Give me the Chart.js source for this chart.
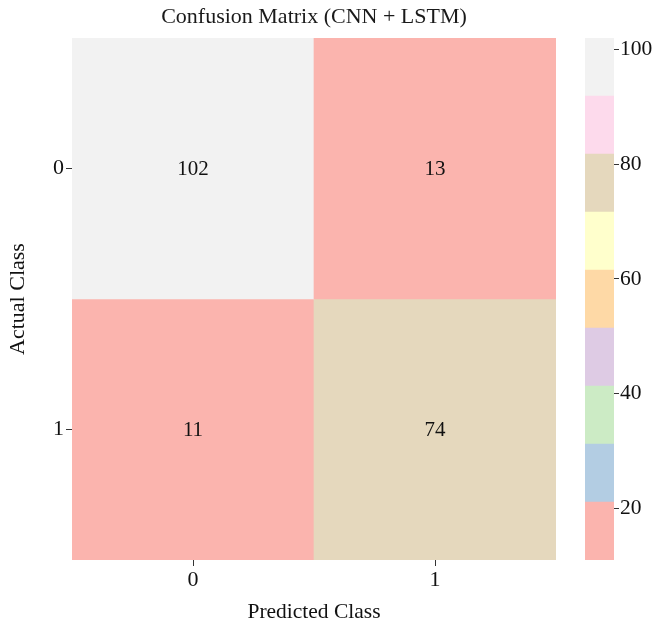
<!DOCTYPE html>
<html>
<head>
<meta charset="utf-8">
<script src="https://cdn.jsdelivr.net/npm/chart.js@4.4.0/dist/chart.umd.min.js"></script>
<style>
    html, body { margin: 0; padding: 0; background: #ffffff; }
    #contenedor { position: relative; width: 654px; height: 628px; }
    #matriz { position: absolute; left: 0; top: 0; }
    #barraColor { position: absolute; left: 575px; top: 0; }
</style>
</head>
<body>
<div id="contenedor">
    <canvas id="matriz" width="654" height="628"></canvas>
    <canvas id="barraColor" width="79" height="628"></canvas>
</div>
<script>
// Datos de la matriz de confusión
const clasesPredichas = ['0', '1'];
const clasesReales = ['0', '1'];
const fila0 = [102, 13];
const fila1 = [11, 74];
const ticksBarra = [20, 40, 60, 80, 100];

// Paleta Pastel1 (9 colores, de menor a mayor)
const PALETA = ['#fbb4ae', '#b3cde3', '#ccebc5', '#decbe4', '#fed9a6',
                '#ffffcc', '#e5d8bd', '#fddaec', '#f2f2f2'];

const FUENTE = "'Liberation Serif', 'Times New Roman', serif";
const filas = [fila0, fila1];
const todos = fila0.concat(fila1);
const vMin = Math.min(...todos);
const vMax = Math.max(...todos);

// Color según el valor (mapa de colores discreto)
function colorDe(valor) {
    let i = Math.floor((valor - vMin) / (vMax - vMin) * PALETA.length);
    if (i >= PALETA.length) i = PALETA.length - 1;
    if (i < 0) i = 0;
    return PALETA[i];
}

// Plugin para escribir los valores en cada celda
const textoCeldas = {
    id: 'textoCeldas',
    afterDatasetsDraw(chart) {
        const ctx = chart.ctx;
        ctx.save();
        ctx.font = '21px ' + FUENTE;
        ctx.fillStyle = '#111111';
        ctx.textAlign = 'center';
        ctx.textBaseline = 'middle';
        chart.data.datasets.forEach((ds, di) => {
            const meta = chart.getDatasetMeta(di);
            meta.data.forEach((barra, j) => {
                const y = (barra.y + barra.base) / 2;
                ctx.fillText(String(filas[di][j]), barra.x, y + 1);
            });
        });
        ctx.restore();
    }
};

// Gráfico principal (celdas)
new Chart(document.getElementById('matriz').getContext('2d'), {
    type: 'bar',
    data: {
        labels: clasesPredichas,
        datasets: filas.map((fila, i) => ({
            label: 'Fila ' + clasesReales[i],
            data: fila.map(() => [i, i + 1]),
            backgroundColor: fila.map(v => colorDe(v)),
            borderWidth: 0,
            barPercentage: 1,
            categoryPercentage: 1,
            grouped: false
        }))
    },
    options: {
        responsive: false,
        animation: false,
        layout: { padding: { right: 98, left: 0, top: 0, bottom: 0 } },
        plugins: {
            legend: { display: false },
            tooltip: { enabled: false },
            title: {
                display: true,
                fullSize: false,
                text: 'Confusion Matrix (CNN + LSTM)',
                color: '#1a1a1a',
                font: { family: FUENTE, size: 22, weight: 'normal' },
                padding: { top: 4, bottom: 7.6 }
            }
        },
        scales: {
            x: {
                type: 'category',
                grid: {
                    display: true, drawOnChartArea: false, drawTicks: true,
                    tickLength: 6, offset: false, color: '#333333'
                },
                border: { display: false },
                ticks: {
                    color: '#111111', padding: 1,
                    font: { family: FUENTE, size: 22 }
                },
                title: {
                    display: true, text: 'Predicted Class', color: '#111111',
                    font: { family: FUENTE, size: 21.5 },
                    padding: { top: 2, bottom: 3 }
                },
                afterFit(escala) { escala.height = 68; }
            },
            y: {
                type: 'linear',
                min: 0,
                max: 2,
                reverse: true,
                afterBuildTicks(escala) {
                    escala.ticks = clasesReales.map((c, i) => ({ value: i + 0.5 }));
                },
                grid: {
                    display: true, drawOnChartArea: false, drawTicks: true,
                    tickLength: 6, color: '#333333'
                },
                border: { display: false },
                ticks: {
                    color: '#111111', padding: 2,
                    font: { family: FUENTE, size: 22 }
                    ,
                    callback: (valor) => clasesReales[Math.floor(valor)]
                },
                title: {
                    display: true, text: 'Actual Class', color: '#111111',
                    font: { family: FUENTE, size: 22 },
                    padding: { top: 5, bottom: 2 }
                },
                afterFit(escala) { escala.width = 72; }
            }
        }
    },
    plugins: [textoCeldas]
});

// Barra de colores
const pasoBanda = (vMax - vMin) / PALETA.length;
new Chart(document.getElementById('barraColor').getContext('2d'), {
    type: 'bar',
    data: {
        labels: [''],
        datasets: PALETA.map((c, k) => ({
            data: [[vMin + k * pasoBanda, vMin + (k + 1) * pasoBanda]],
            backgroundColor: c,
            borderWidth: 0,
            barPercentage: 1,
            categoryPercentage: 1,
            grouped: false
        }))
    },
    options: {
        responsive: false,
        animation: false,
        layout: { padding: { top: 38, bottom: 68, left: 10, right: 0 } },
        plugins: { legend: { display: false }, tooltip: { enabled: false } },
        scales: {
            x: { display: false },
            y: {
                type: 'linear',
                position: 'right',
                min: vMin,
                max: vMax,
                afterBuildTicks(escala) {
                    escala.ticks = ticksBarra.map(v => ({ value: v }));
                },
                grid: {
                    display: true, drawOnChartArea: false, drawTicks: true,
                    tickLength: 5, color: '#333333'
                },
                border: { display: false },
                ticks: {
                    color: '#111111', padding: 1,
                    font: { family: FUENTE, size: 21.5 }
                },
                afterFit(escala) { escala.width = 40; }
            }
        }
    }
});
</script>
</body>
</html>
